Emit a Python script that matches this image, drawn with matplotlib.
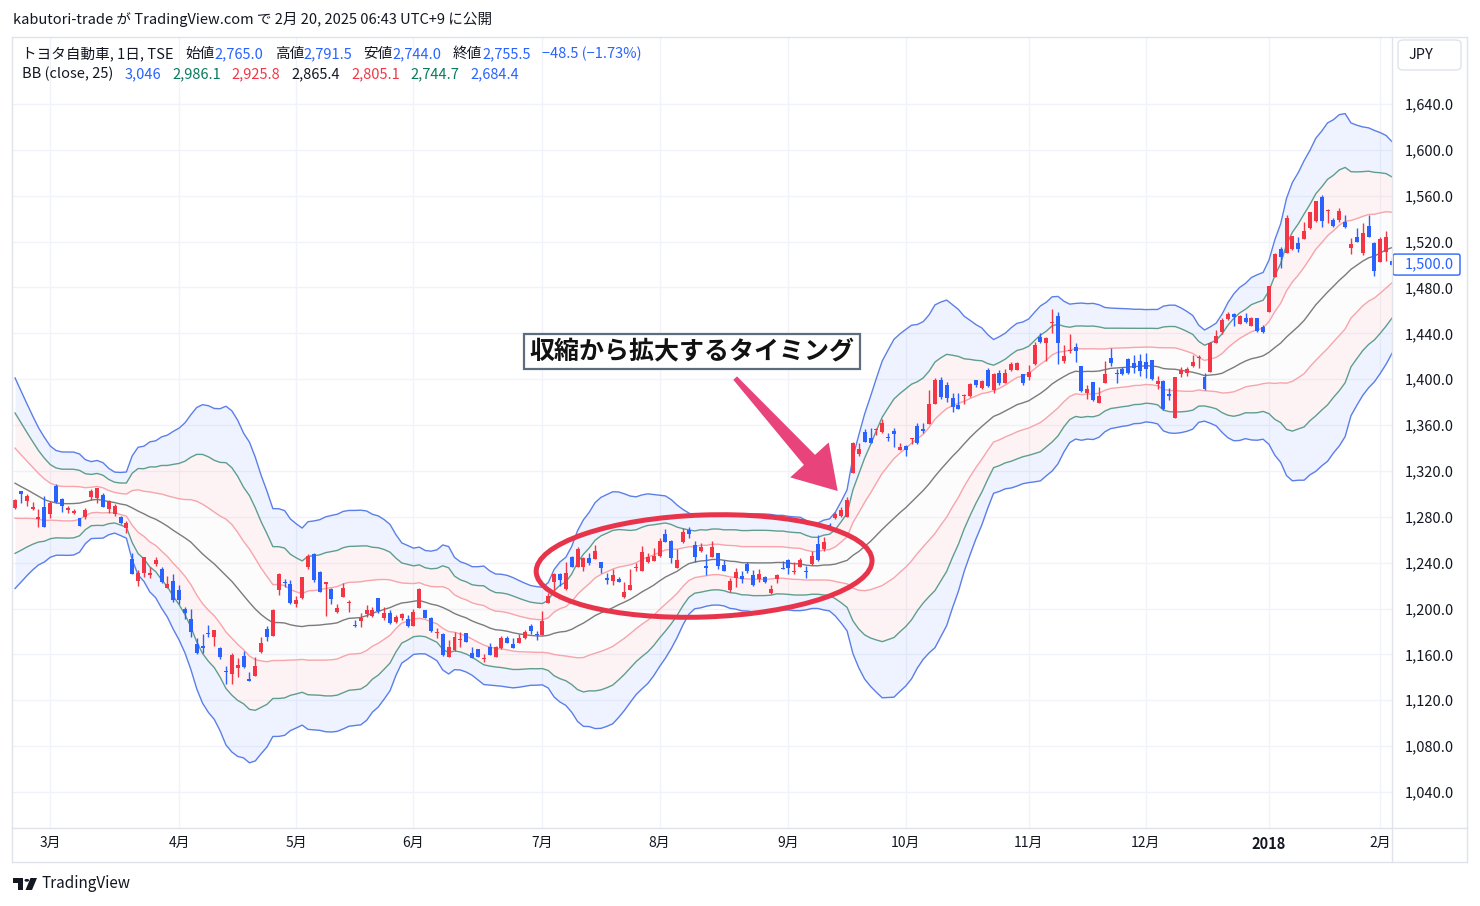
import matplotlib
matplotlib.use("Agg")
import matplotlib.pyplot as plt
import numpy as np
import pandas as pd
from matplotlib.patches import Ellipse, Polygon, FancyBboxPatch, Circle
from matplotlib.lines import Line2D
from matplotlib.transforms import IdentityTransform

plt.rcParams['font.family'] = ['Noto Sans CJK JP', 'DejaVu Sans']

# ---------------- data ----------------
warmup_closes = [1372, 1366, 1360, 1354, 1345, 1335, 1320, 1305, 1290, 1282,
                 1262, 1255, 1268, 1290, 1310, 1320, 1312, 1305, 1298, 1292,
                 1300, 1305, 1298, 1294]

opens = [
    1287.9, 1302.5, 1294.0, 1286.5, 1278.1, 1288.8, 1282.7, 1306.9, 1295.5, 1285.9,
    1283.6, 1279.0, 1280.1, 1297.5, 1296.4, 1299.0, 1286.5, 1282.2, 1280.1, 1270.5,
    1243.2, 1224.3, 1231.2, 1229.3, 1238.8, 1234.5, 1218.2, 1224.0, 1216.2, 1199.6,
    1190.9, 1169.0, 1167.3, 1178.9, 1175.2, 1165.8, 1145.5, 1142.9, 1148.4, 1158.6,
    1138.6, 1141.4, 1162.3, 1182.1, 1176.0, 1216.2, 1223.1, 1221.4, 1204.0, 1209.2,
    1236.5, 1247.6, 1231.9, 1221.4, 1217.0, 1197.0, 1210.3, 1205.1, 1185.6, 1189.1,
    1195.2, 1193.5, 1209.2, 1192.0, 1196.4, 1188.3, 1192.0, 1190.9, 1185.0, 1200.7,
    1198.7, 1191.7, 1178.6, 1177.8, 1158.0, 1163.8, 1172.6, 1178.6, 1161.5, 1164.7,
    1156.0, 1166.7, 1158.0, 1165.6, 1174.3, 1169.0, 1170.2, 1174.3, 1184.8, 1177.8,
    1176.9, 1204.8, 1223.4, 1230.1, 1217.0, 1245.2, 1236.2, 1236.2, 1244.3, 1243.2,
    1240.8, 1226.6, 1224.3, 1225.8, 1209.8, 1216.2, 1235.1, 1232.7, 1240.8, 1241.7,
    1245.8, 1265.0, 1258.9, 1235.6, 1257.8, 1268.5, 1255.4, 1250.4, 1237.1, 1245.2,
    1248.2, 1238.0, 1216.2, 1226.4, 1228.4, 1238.8, 1229.3, 1225.8, 1227.2, 1213.3,
    1225.5, 1235.1, 1242.3, 1231.6, 1236.5, 1232.7, 1238.8, 1256.0, 1251.6, 1272.8,
    1278.7, 1281.0, 1280.1, 1318.4, 1334.8, 1353.7, 1348.5, 1355.7, 1354.2, 1349.3,
    1354.8, 1338.3, 1341.7, 1347.6, 1359.2, 1356.3, 1360.9, 1378.4, 1399.3, 1395.0,
    1383.3, 1377.5, 1385.3, 1385.3, 1399.3, 1392.6, 1408.0, 1390.6, 1405.1, 1397.0,
    1408.0, 1408.0, 1404.5, 1402.2, 1413.2, 1436.5, 1431.8, 1449.3, 1455.4, 1415.9,
    1424.9, 1428.3, 1411.5, 1387.7, 1397.3, 1379.5, 1397.0, 1418.2, 1405.1, 1408.6,
    1417.3, 1413.9, 1416.1, 1414.7, 1416.7, 1395.5, 1398.4, 1387.1, 1365.9, 1404.3,
    1405.0, 1411.8, 1418.2, 1402.2, 1406.5, 1431.3, 1441.2, 1452.5, 1456.6, 1448.4,
    1453.6, 1446.7, 1453.6, 1445.5, 1458.3, 1488.9, 1513.5, 1509.8, 1513.3, 1519.0,
    1522.0, 1531.6, 1538.0, 1558.6, 1546.7, 1538.8, 1538.8, 1537.4, 1514.7, 1524.3,
    1509.8, 1533.6, 1518.5, 1502.5, 1511.2, 1503.1]

highs = [
    1295.5, 1302.5, 1299.9, 1292.9, 1286.8, 1298.1, 1293.8, 1308.6, 1296.6, 1289.7,
    1286.8, 1279.0, 1287.7, 1304.2, 1305.4, 1300.5, 1294.7, 1290.9, 1280.7, 1276.3,
    1248.4, 1233.6, 1245.2, 1236.5, 1244.9, 1236.2, 1228.4, 1230.1, 1220.5, 1201.3,
    1199.6, 1174.3, 1177.8, 1185.6, 1181.3, 1166.7, 1150.1, 1161.2, 1156.9, 1162.9,
    1144.6, 1158.0, 1175.4, 1184.8, 1199.6, 1231.2, 1225.8, 1224.9, 1210.9, 1227.8,
    1247.6, 1248.4, 1232.7, 1223.4, 1218.2, 1204.0, 1222.5, 1207.4, 1190.0, 1196.1,
    1203.1, 1201.3, 1209.2, 1201.3, 1198.7, 1194.4, 1196.1, 1194.4, 1199.6, 1218.2,
    1198.7, 1192.6, 1183.0, 1178.6, 1172.6, 1179.5, 1179.5, 1178.6, 1166.4, 1164.7,
    1160.4, 1170.2, 1167.3, 1176.0, 1176.0, 1174.3, 1177.8, 1181.3, 1186.5, 1180.4,
    1198.1, 1213.5, 1231.0, 1231.2, 1240.6, 1245.8, 1253.7, 1245.2, 1248.4, 1255.4,
    1240.8, 1231.0, 1234.5, 1227.8, 1223.4, 1234.5, 1239.7, 1254.8, 1248.7, 1253.0,
    1261.5, 1269.4, 1259.8, 1251.9, 1270.2, 1271.4, 1259.1, 1257.1, 1247.6, 1258.9,
    1248.7, 1242.3, 1226.6, 1235.1, 1232.7, 1240.8, 1233.6, 1234.2, 1228.4, 1220.5,
    1229.9, 1241.4, 1242.9, 1240.8, 1243.8, 1237.1, 1250.4, 1264.1, 1262.6, 1274.9,
    1284.4, 1288.5, 1297.0, 1345.5, 1344.6, 1356.3, 1357.2, 1357.2, 1365.0, 1353.3,
    1357.7, 1344.6, 1342.6, 1348.5, 1361.5, 1362.1, 1390.6, 1401.0, 1402.0, 1398.0,
    1387.7, 1387.7, 1386.8, 1396.9, 1399.3, 1399.3, 1410.0, 1405.7, 1408.0, 1408.6,
    1415.3, 1415.3, 1404.5, 1412.4, 1432.7, 1440.5, 1436.5, 1461.2, 1458.9, 1429.8,
    1439.2, 1431.3, 1411.5, 1394.9, 1397.8, 1392.9, 1416.1, 1426.9, 1408.6, 1410.9,
    1418.7, 1421.1, 1422.0, 1423.1, 1416.7, 1402.8, 1399.3, 1392.1, 1402.2, 1410.9,
    1410.4, 1421.1, 1421.1, 1405.7, 1432.7, 1442.9, 1453.1, 1458.9, 1457.5, 1456.0,
    1457.5, 1454.5, 1453.6, 1447.2, 1481.3, 1509.8, 1515.5, 1543.2, 1524.9, 1524.3,
    1536.8, 1546.1, 1555.4, 1560.6, 1548.4, 1540.3, 1549.6, 1543.2, 1522.9, 1531.6,
    1536.0, 1543.2, 1519.9, 1524.3, 1529.2, 1505.7]

lows = [
    1286.8, 1292.0, 1289.4, 1285.9, 1271.1, 1271.4, 1279.2, 1292.0, 1284.2, 1283.6,
    1282.5, 1272.2, 1278.3, 1294.7, 1292.3, 1288.3, 1283.6, 1281.0, 1273.7, 1265.9,
    1230.4, 1219.7, 1227.8, 1226.6, 1237.3, 1222.5, 1218.2, 1206.0, 1204.0, 1190.9,
    1175.4, 1160.4, 1161.5, 1175.4, 1167.3, 1156.0, 1134.2, 1134.2, 1140.5, 1148.4,
    1137.1, 1141.4, 1161.5, 1171.9, 1176.0, 1211.8, 1219.0, 1204.0, 1201.3, 1208.3,
    1234.5, 1223.4, 1214.7, 1193.7, 1204.0, 1196.1, 1210.3, 1197.2, 1184.1, 1184.1,
    1192.4, 1192.6, 1196.4, 1190.0, 1186.5, 1187.4, 1190.0, 1183.9, 1184.8, 1200.5,
    1192.0, 1179.8, 1174.3, 1158.6, 1157.7, 1162.9, 1166.7, 1170.6, 1156.9, 1157.5,
    1153.4, 1159.5, 1157.7, 1164.7, 1169.9, 1165.8, 1169.9, 1173.4, 1177.8, 1172.6,
    1176.9, 1204.8, 1214.7, 1219.9, 1216.2, 1236.0, 1236.2, 1232.7, 1238.0, 1243.2,
    1230.7, 1221.4, 1220.5, 1223.1, 1209.2, 1216.2, 1232.7, 1232.7, 1239.9, 1241.7,
    1245.2, 1258.0, 1239.9, 1235.3, 1257.1, 1261.8, 1240.3, 1249.0, 1229.3, 1245.2,
    1234.2, 1233.0, 1214.7, 1219.0, 1222.5, 1230.7, 1219.7, 1222.9, 1222.5, 1212.7,
    1222.0, 1234.5, 1230.1, 1230.1, 1236.0, 1226.9, 1238.0, 1241.4, 1250.4, 1269.4,
    1278.1, 1280.1, 1280.1, 1317.9, 1333.3, 1345.0, 1344.1, 1351.3, 1353.3, 1346.4,
    1341.1, 1338.0, 1333.3, 1343.2, 1343.2, 1352.8, 1360.9, 1378.4, 1383.0, 1380.0,
    1371.1, 1373.8, 1378.4, 1384.7, 1392.9, 1391.5, 1393.5, 1387.7, 1394.9, 1397.0,
    1407.4, 1408.0, 1394.9, 1399.3, 1412.4, 1431.3, 1415.9, 1440.0, 1413.0, 1414.4,
    1422.6, 1415.3, 1389.1, 1382.7, 1381.2, 1379.5, 1397.0, 1411.5, 1396.4, 1403.7,
    1404.3, 1405.7, 1402.8, 1400.8, 1399.3, 1391.2, 1373.1, 1381.9, 1365.9, 1402.2,
    1402.5, 1410.4, 1409.5, 1390.6, 1406.5, 1431.3, 1439.4, 1451.6, 1446.7, 1447.9,
    1449.0, 1446.4, 1441.4, 1440.0, 1458.3, 1488.9, 1496.7, 1509.8, 1512.7, 1511.2,
    1522.0, 1531.0, 1536.8, 1533.0, 1535.9, 1533.0, 1537.4, 1532.1, 1509.2, 1519.4,
    1508.3, 1523.8, 1490.3, 1501.9, 1503.1, 1498.7]

closes = [
    1294.7, 1299.9, 1298.1, 1288.8, 1279.8, 1271.4, 1292.0, 1292.9, 1289.7, 1287.7,
    1285.1, 1272.2, 1285.9, 1302.5, 1305.1, 1288.8, 1293.8, 1289.7, 1274.3, 1274.3,
    1230.4, 1231.2, 1244.9, 1231.2, 1242.3, 1223.4, 1221.4, 1207.1, 1207.1, 1196.1,
    1179.8, 1161.2, 1165.6, 1177.8, 1181.3, 1158.0, 1144.9, 1159.5, 1150.7, 1149.3,
    1137.1, 1149.9, 1170.2, 1175.4, 1198.7, 1230.1, 1222.3, 1205.1, 1207.1, 1227.5,
    1246.1, 1224.9, 1214.7, 1223.4, 1208.3, 1200.5, 1217.9, 1206.0, 1184.8, 1192.0,
    1198.7, 1198.7, 1197.8, 1196.1, 1187.4, 1192.6, 1195.2, 1184.8, 1197.2, 1217.0,
    1192.0, 1180.4, 1179.5, 1159.5, 1166.7, 1175.2, 1173.4, 1170.6, 1157.1, 1157.5,
    1156.9, 1159.5, 1166.7, 1174.3, 1170.2, 1165.8, 1174.3, 1179.5, 1180.6, 1176.9,
    1189.1, 1210.9, 1230.1, 1224.9, 1231.0, 1236.0, 1251.9, 1244.1, 1239.9, 1250.2,
    1235.1, 1224.9, 1229.3, 1223.4, 1214.7, 1220.5, 1236.2, 1249.6, 1245.2, 1245.8,
    1258.9, 1258.3, 1243.8, 1242.3, 1267.0, 1265.0, 1245.2, 1253.7, 1235.1, 1254.0,
    1237.1, 1233.0, 1224.3, 1232.1, 1225.8, 1232.7, 1220.5, 1229.9, 1223.4, 1217.0,
    1229.3, 1234.5, 1235.1, 1232.7, 1242.3, 1232.1, 1245.8, 1242.3, 1258.3, 1270.5,
    1282.4, 1285.9, 1294.7, 1344.1, 1338.9, 1345.5, 1344.6, 1356.3, 1361.5, 1348.7,
    1352.2, 1340.6, 1338.3, 1348.5, 1344.6, 1355.1, 1378.4, 1399.3, 1384.7, 1384.0,
    1375.5, 1374.3, 1386.2, 1395.8, 1394.9, 1398.4, 1394.1, 1404.5, 1396.4, 1405.1,
    1413.2, 1414.4, 1396.4, 1406.5, 1429.8, 1432.2, 1435.7, 1450.2, 1431.8, 1420.2,
    1425.5, 1424.9, 1390.0, 1391.5, 1381.9, 1385.3, 1404.5, 1414.4, 1404.5, 1404.3,
    1405.7, 1409.5, 1407.4, 1408.6, 1399.9, 1398.4, 1373.7, 1385.3, 1401.7, 1408.0,
    1408.5, 1415.3, 1419.1, 1391.2, 1431.8, 1437.7, 1451.6, 1456.9, 1454.5, 1455.1,
    1449.6, 1453.6, 1442.0, 1440.9, 1481.3, 1509.2, 1506.8, 1540.3, 1524.9, 1513.5,
    1529.2, 1545.5, 1555.4, 1538.0, 1547.6, 1533.9, 1546.7, 1533.0, 1517.6, 1519.9,
    1527.2, 1524.3, 1494.4, 1522.3, 1524.3, 1500.0]

month_labels = ['3月', '4月', '5月', '6月', '7月', '8月', '9月', '10月', '11月', '12月', '2018', '2月']
month_index = [6, 28, 48, 68, 90, 110, 132, 152, 173, 193, 214, 233]
price_ticks = list(range(1040, 1641, 40))

header_text = "kabutori-trade が TradingView.com で 2月 20, 2025 06:43 UTC+9 に公開"
legend_line1 = [("トヨタ自動車, 1日, TSE", 'dark', 12), ("始値", 'dark', 0), ("2,765.0", 'blue', 11),
                ("高値", 'dark', 0), ("2,791.5", 'blue', 11), ("安値", 'dark', 0), ("2,744.0", 'blue', 11),
                ("終値", 'dark', 0), ("2,755.5", 'blue', 11), ("−48.5 (−1.73%)", 'blue', 0)]
legend_line2 = [("BB (close, 25)", 'dark', 11), ("3,046", 'blue', 11), ("2,986.1", 'green', 11),
                ("2,925.8", 'red', 11), ("2,865.4", 'dark', 11), ("2,805.1", 'red', 11),
                ("2,744.7", 'green', 11), ("2,684.4", 'blue', 0)]
annotation_text = "収縮から拡大するタイミング"

# ---------------- colours ----------------
UP = '#f23645'
DOWN = '#2962ff'
DARK = '#131722'
C = {'dark': DARK, 'blue': '#2962ff', 'green': '#087a5b', 'red': '#f23645'}
BAND3 = '#5b7fe8'
BAND2 = '#5f9e8c'
BAND1 = '#f6a5ab'
MIDC = '#7b7b7b'
GRID = '#f0f3fa'
FRAME = '#e0e3eb'
FS = 10.5

# ---------------- figure ----------------
W, H = 1480, 906
fig = plt.figure(figsize=(W / 100, H / 100), dpi=100)
fig.patch.set_facecolor('white')
L, R, T, B = 13, 1392, 38, 828
ax = fig.add_axes([L / W, 1 - B / H, (R - L) / W, (B - T) / H])
ax.set_facecolor('white')

n = len(closes)
x = np.arange(n)
o = np.array(opens); h = np.array(highs); lo = np.array(lows); c = np.array(closes)

# Bollinger bands (25, population std)
s = pd.Series(warmup_closes + closes, dtype=float)
mid = s.rolling(25).mean().to_numpy()[len(warmup_closes):]
sd = s.rolling(25).std(ddof=0).to_numpy()[len(warmup_closes):]

ax.fill_between(x, mid + 2 * sd, mid + 3 * sd, color='#2962ff', alpha=0.07, lw=0, zorder=1)
ax.fill_between(x, mid - 3 * sd, mid - 2 * sd, color='#2962ff', alpha=0.07, lw=0, zorder=1)
ax.fill_between(x, mid + sd, mid + 2 * sd, color='#f23645', alpha=0.06, lw=0, zorder=1)
ax.fill_between(x, mid - 2 * sd, mid - sd, color='#f23645', alpha=0.06, lw=0, zorder=1)
ax.fill_between(x, mid - sd, mid + sd, color='#787b86', alpha=0.015, lw=0, zorder=1)
for k, col in [(3, BAND3), (2, BAND2), (1, BAND1)]:
    ax.plot(x, mid + k * sd, color=col, lw=1.0, zorder=2)
    ax.plot(x, mid - k * sd, color=col, lw=1.0, zorder=2)
ax.plot(x, mid, color=MIDC, lw=1.0, zorder=2)

# candles
cols = np.where(c >= o, UP, DOWN)
ax.vlines(x, lo, h, colors=cols, lw=1.0, zorder=3)
bot = np.minimum(o, c)
hgt = np.maximum(np.abs(c - o), 0.9)
ax.bar(x, hgt, bottom=bot, width=0.68, color=cols, lw=0, zorder=4)

# axes
ax.set_xlim(-0.35, 235.0)
ax.set_ylim(1008.6, 1697.6)
ax.yaxis.tick_right()
ax.set_yticks(price_ticks)
ax.set_yticklabels([f"{v:,.1f}" for v in price_ticks])
ax.set_xticks(month_index)
ax.set_xticklabels(month_labels)
ax.tick_params(axis='y', length=0, pad=9.4, labelsize=FS, labelcolor=DARK)
ax.tick_params(axis='x', length=0, pad=6.0, labelsize=10, labelcolor=DARK)
for lab in ax.get_xticklabels():
    if lab.get_text() == '2018':
        lab.set_fontweight('bold')
        lab.set_fontsize(10.5)
for sp in ax.spines.values():
    sp.set_visible(False)
ax.grid(True, color=GRID, lw=1.0, zorder=0)
ax.set_axisbelow(True)

# frame lines (pixel coords)
def hline(y, x0, x1, col=FRAME):
    fig.add_artist(Line2D([x0 / W, x1 / W], [1 - y / H, 1 - y / H], transform=fig.transFigure, color=col, lw=1))

def vline(xp, y0, y1, col=FRAME):
    fig.add_artist(Line2D([xp / W, xp / W], [1 - y0 / H, 1 - y1 / H], transform=fig.transFigure, color=col, lw=1))

hline(37, 12, 1467); hline(862, 12, 1467); hline(828, 12, 1467)
vline(12, 37, 862); vline(1467, 37, 862); vline(1392, 37, 862)

# ---------------- texts ----------------
def ftext(xp, yp, s, color=DARK, size=FS, **kw):
    return fig.text(xp / W, 1 - yp / H, s, color=color, fontsize=size, va='center', ha='left', **kw)

ftext(13, 19, header_text, size=FS)

fig.canvas.draw()
rend = fig.canvas.get_renderer()

def seq_line(pieces, x0, yp):
    xp = x0
    for txt, col, gap in pieces:
        t = ftext(xp, yp, txt, color=C[col])
        wpx = t.get_window_extent(renderer=rend).width
        xp += wpx + gap

seq_line(legend_line1, 22, 54)
seq_line(legend_line2, 22, 74)

# JPY box
fig.add_artist(FancyBboxPatch((1398 / W, 1 - 70 / H), 63 / W, 30 / H,
                              boxstyle='round,pad=0,rounding_size=0.004', transform=fig.transFigure,
                              fc='white', ec=FRAME, lw=1))
fig.text(1421 / W, 1 - 55 / H, 'JPY', ha='center', va='center', fontsize=FS, color=DARK)

# last price label
ylast = ax.transData.transform((0, closes[-1]))[1]
fig.add_artist(FancyBboxPatch((1393, ylast - 10.5), 67, 21, boxstyle='round,pad=0,rounding_size=2',
                              transform=IdentityTransform(), fc='white', ec='#2962ff', lw=1))
fig.text(1405 / W, ylast / H, f"{closes[-1]:,.1f}", ha='left', va='center', fontsize=FS, color='#2962ff')

# footer logo
def px_poly(pts, **kw):
    fig.add_artist(Polygon([(a / W, 1 - b / H) for a, b in pts], closed=True, transform=fig.transFigure, **kw))

px_poly([(13, 878), (23, 878), (23, 890), (18, 890), (18, 882.5), (13, 882.5)], fc=DARK, ec='none')
fig.add_artist(Circle((26.8 / W, 1 - 880.3 / H), 2.3 / W, transform=fig.transFigure, fc=DARK, ec='none'))
px_poly([(30.5, 878), (37, 878), (32, 890), (25.5, 890)], fc=DARK, ec='none')
ftext(42, 884, 'TradingView', size=11)

# ---------------- annotations ----------------
ec_px = ax.transData.transform((117.6, 1237.1))
ax.add_artist(Ellipse(ec_px, 336, 102, angle=2, transform=IdentityTransform(),
                      fill=False, ec='#e8344b', lw=3.6, zorder=6, clip_on=False))

Tp = ax.transData.transform((122.9, 1401.0))
Pp = ax.transData.transform((140.4, 1302.5))
d = (Pp - Tp) / np.linalg.norm(Pp - Tp)
nrm = np.array([-d[1], d[0]])
base = Pp - d * 42
pts = [Tp + nrm * 2.5, base + nrm * 7.5, base + nrm * 26, Pp, base - nrm * 26, base - nrm * 7.5, Tp - nrm * 2.5]
fig.add_artist(Polygon(pts, closed=True, transform=IdentityTransform(), fc='#e8437a', ec='none', zorder=7))

ax.text(115.5, 1424.6, annotation_text, ha='center', va='center', fontsize=18, fontweight='bold',
        color='#111111', zorder=8,
        bbox=dict(boxstyle='square,pad=0.22', fc='white', ec='#5d6d7e', lw=1.6))

fig.savefig('out.png', dpi=100, facecolor='white')
